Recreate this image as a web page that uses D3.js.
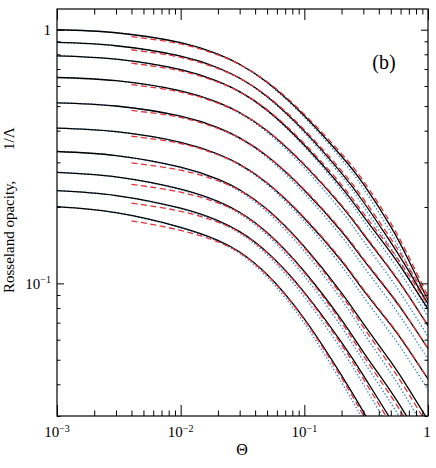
<!DOCTYPE html>
<html>
<head>
<meta charset="utf-8">
<script src="https://cdn.jsdelivr.net/npm/d3@7"></script>
<style>
  body { margin: 0; background: #fff; }
  text { font-family: "Liberation Serif", "Times New Roman", serif; fill: #000; }
</style>
</head>
<body>
<svg id="chart" width="436" height="468"></svg>
<script>
// Theta grid for the solid (black) and dotted (blue) curves
const theta = [0.001, 0.003, 0.01, 0.02, 0.03, 0.05, 0.1, 0.2, 0.3, 0.5, 0.7, 1];
// red dashed curves start a bit later
const thetaRed = [0.004, 0.01, 0.02, 0.03, 0.05, 0.1, 0.2, 0.3, 0.5, 0.7, 1];

// solid black curves, top to bottom
const black = [
  [1.000, 0.973, 0.889, 0.801, 0.731, 0.621, 0.458, 0.317, 0.2466, 0.1673, 0.1228, 0.0859],
  [0.891, 0.8645, 0.7867, 0.7080, 0.6450, 0.5458, 0.3982, 0.2719, 0.2098, 0.1452, 0.1117, 0.0830],
  [0.789, 0.7652, 0.6957, 0.6258, 0.5703, 0.4820, 0.3510, 0.2390, 0.1841, 0.1321, 0.1040, 0.0793],
  [0.648, 0.6296, 0.5741, 0.5170, 0.4716, 0.3997, 0.2931, 0.2016, 0.1562, 0.1126, 0.0890, 0.0681],
  [0.515, 0.5004, 0.4562, 0.4109, 0.3748, 0.3177, 0.2329, 0.1602, 0.1241, 0.0904, 0.0719, 0.0554],
  [0.409, 0.3963, 0.3599, 0.3236, 0.2947, 0.2488, 0.1807, 0.1225, 0.0941, 0.0686, 0.0546, 0.0420],
  [0.331, 0.3190, 0.2872, 0.2575, 0.2339, 0.1958, 0.1395, 0.0918, 0.0694, 0.0491, 0.0383, 0.0289],
  [0.274, 0.2629, 0.2352, 0.2105, 0.1908, 0.1587, 0.1114, 0.0718, 0.0536, 0.0375, 0.0290, 0.0218],
  [0.232, 0.2220, 0.1978, 0.1768, 0.1600, 0.1326, 0.0922, 0.0585, 0.0434, 0.0291, 0.0221, 0.0162],
  [0.2006, 0.1899, 0.1663, 0.1478, 0.1330, 0.1084, 0.0725, 0.0434, 0.0312, 0.0201, 0.0149, 0.0108]
];

// blue dotted curves
const blue = [
  [1.000, 0.973, 0.889, 0.799, 0.7276, 0.6167, 0.4517, 0.3083, 0.2371, 0.1587, 0.1154, 0.0802],
  [0.891, 0.8645, 0.7867, 0.7064, 0.6420, 0.5420, 0.3927, 0.2645, 0.2017, 0.1377, 0.1050, 0.0775],
  [0.789, 0.7652, 0.6957, 0.6244, 0.5677, 0.4787, 0.3462, 0.2325, 0.1770, 0.1253, 0.0977, 0.0740],
  [0.648, 0.6296, 0.5728, 0.5146, 0.4673, 0.3942, 0.2851, 0.1925, 0.1471, 0.1041, 0.0815, 0.0618],
  [0.515, 0.5004, 0.4552, 0.4090, 0.3714, 0.3133, 0.2265, 0.1530, 0.1169, 0.0836, 0.0659, 0.0503],
  [0.409, 0.3963, 0.3591, 0.3221, 0.2920, 0.2454, 0.1758, 0.1170, 0.0886, 0.0634, 0.0500, 0.0381],
  [0.331, 0.3190, 0.2859, 0.2551, 0.2307, 0.1913, 0.1338, 0.0861, 0.0640, 0.0443, 0.0341, 0.0255],
  [0.274, 0.2629, 0.2341, 0.2086, 0.1882, 0.1551, 0.1069, 0.0673, 0.0495, 0.0338, 0.0258, 0.0192],
  [0.232, 0.2220, 0.1969, 0.1752, 0.1578, 0.1296, 0.0885, 0.0548, 0.0400, 0.0262, 0.0197, 0.0143],
  [0.2006, 0.1899, 0.1655, 0.1464, 0.1312, 0.1059, 0.0696, 0.0407, 0.0288, 0.0181, 0.0133, 0.0095]
];

// red dashed curves
const red = [
  [0.939, 0.8789, 0.7955, 0.7293, 0.6239, 0.4644, 0.3244, 0.2535, 0.1728, 0.1271, 0.0891],
  [0.8337, 0.7777, 0.7031, 0.6435, 0.5483, 0.4037, 0.2782, 0.2157, 0.1500, 0.1156, 0.0861],
  [0.7378, 0.6878, 0.6215, 0.5690, 0.4842, 0.3559, 0.2446, 0.1893, 0.1364, 0.1077, 0.0823],
  [0.6075, 0.5676, 0.5134, 0.4705, 0.4006, 0.2951, 0.2035, 0.1577, 0.1134, 0.0894, 0.0681],
  [0.4805, 0.4510, 0.4081, 0.3739, 0.3184, 0.2345, 0.1617, 0.1253, 0.0910, 0.0722, 0.0554],
  [0.3802, 0.3558, 0.3214, 0.2940, 0.2494, 0.1819, 0.1236, 0.0950, 0.0691, 0.0549, 0.0420],
  [0.2984, 0.2794, 0.2540, 0.2323, 0.1949, 0.1382, 0.0897, 0.0672, 0.0471, 0.0366, 0.0275],
  [0.2456, 0.2288, 0.2076, 0.1895, 0.1580, 0.1104, 0.0702, 0.0519, 0.0360, 0.0277, 0.0207],
  [0.2072, 0.1924, 0.1744, 0.1589, 0.1320, 0.0914, 0.0572, 0.0420, 0.0279, 0.0211, 0.0154],
  [0.1765, 0.1618, 0.1458, 0.1321, 0.1079, 0.0718, 0.0424, 0.0302, 0.0193, 0.0142, 0.0103]
];

const xMajor = [0.001, 0.01, 0.1, 1];
const xLabels = [["10", "\u22123"], ["10", "\u22122"], ["10", "\u22121"], ["1", ""]];
const yMajor = [0.1, 1];
const yLabels = [["10", "\u22121"], ["1", ""]];
const xMinor = [2, 3, 4, 5, 6, 7, 8, 9].flatMap(m => [0.001, 0.01, 0.1].map(d => m * d));
const yMinor = [0.03, 0.04, 0.05, 0.06, 0.07, 0.08, 0.09, 0.2, 0.3, 0.4, 0.5, 0.6, 0.7, 0.8, 0.9];

const width = 436, height = 468;
const margin = { top: 9, right: 8, bottom: 52, left: 57 };

const svg = d3.select("#chart");

const x = d3.scaleLog().domain([1e-3, 1]).range([margin.left, width - margin.right]);
const y = d3.scaleLog().domain([0.03, 1.207]).range([height - margin.bottom, margin.top]);

svg.append("defs").append("clipPath").attr("id", "plot")
  .append("rect")
    .attr("x", margin.left).attr("y", margin.top)
    .attr("width", width - margin.left - margin.right)
    .attr("height", height - margin.top - margin.bottom);

const plot = svg.append("g").attr("clip-path", "url(#plot)");

function line(xs) {
  return d3.line()
    .x((d, i) => x(xs[i]))
    .y(d => y(d))
    .curve(d3.curveNatural);
}

// blue first, black over it, red dashes on top
plot.append("g").selectAll("path").data(blue).join("path")
  .attr("d", line(theta))
  .attr("fill", "none")
  .attr("stroke", "#3a8ad4")
  .attr("stroke-width", 1.4)
  .attr("stroke-dasharray", "1.4,2");

plot.append("g").selectAll("path").data(black).join("path")
  .attr("d", line(theta))
  .attr("fill", "none")
  .attr("stroke", "#000")
  .attr("stroke-width", 1.3);

plot.append("g").selectAll("path").data(red).join("path")
  .attr("d", line(thetaRed))
  .attr("fill", "none")
  .attr("stroke", "#e8303a")
  .attr("stroke-width", 1.3)
  .attr("stroke-dasharray", "6,3.5");

// ticks (inward, on all four sides)
function ticks(axis, vals, size, tr) {
  const g = svg.append("g").attr("transform", tr)
    .call(axis.tickValues(vals).tickSize(-size).tickFormat(""));
  g.select(".domain").remove();
  g.selectAll("line").attr("stroke", "#000").attr("stroke-width", 1);
}
const bottomY = height - margin.bottom, rightX = width - margin.right;
ticks(d3.axisBottom(x), xMajor, 11, `translate(0,${bottomY})`);
ticks(d3.axisBottom(x), xMinor, 5.5, `translate(0,${bottomY})`);
ticks(d3.axisTop(x), xMajor, 11, `translate(0,${margin.top})`);
ticks(d3.axisTop(x), xMinor, 5.5, `translate(0,${margin.top})`);
ticks(d3.axisLeft(y), yMajor, 7, `translate(${margin.left},0)`);
ticks(d3.axisLeft(y), yMinor, 3.5, `translate(${margin.left},0)`);
ticks(d3.axisRight(y), yMajor, 7, `translate(${rightX},0)`);
ticks(d3.axisRight(y), yMinor, 3.5, `translate(${rightX},0)`);

svg.append("rect")
  .attr("x", margin.left).attr("y", margin.top)
  .attr("width", rightX - margin.left).attr("height", bottomY - margin.top)
  .attr("fill", "none").attr("stroke", "#000").attr("stroke-width", 1.2);

// tick labels with superscript exponents
function label(sel, parts) {
  sel.append("tspan").text(parts[0]);
  if (parts[1]) sel.append("tspan").attr("font-size", 10).attr("dy", -5.5).text(parts[1]);
}
xMajor.forEach((v, i) => {
  const t = svg.append("text")
    .attr("x", x(v) + (xLabels[i][1] ? 0 : -1)).attr("y", 437)
    .attr("text-anchor", "middle").attr("font-size", 15);
  label(t, xLabels[i]);
});
yMajor.forEach((v, i) => {
  const t = svg.append("text")
    .attr("x", 51).attr("y", y(v) + 5.5)
    .attr("text-anchor", "end").attr("font-size", 15);
  label(t, yLabels[i]);
});

// axis titles
svg.append("text")
  .attr("x", 242).attr("y", 455)
  .attr("text-anchor", "middle").attr("font-size", 16)
  .text("\u0398");

svg.append("text")
  .attr("transform", "translate(14,293) rotate(-90)")
  .attr("font-size", 15)
  .text("Rosseland opacity,");
svg.append("text")
  .attr("transform", "translate(14,150) rotate(-90)")
  .attr("font-size", 15)
  .text("1/\u039b");

svg.append("text")
  .attr("x", 384).attr("y", 69)
  .attr("text-anchor", "middle").attr("font-size", 20)
  .text("(b)");
</script>
</body>
</html>
